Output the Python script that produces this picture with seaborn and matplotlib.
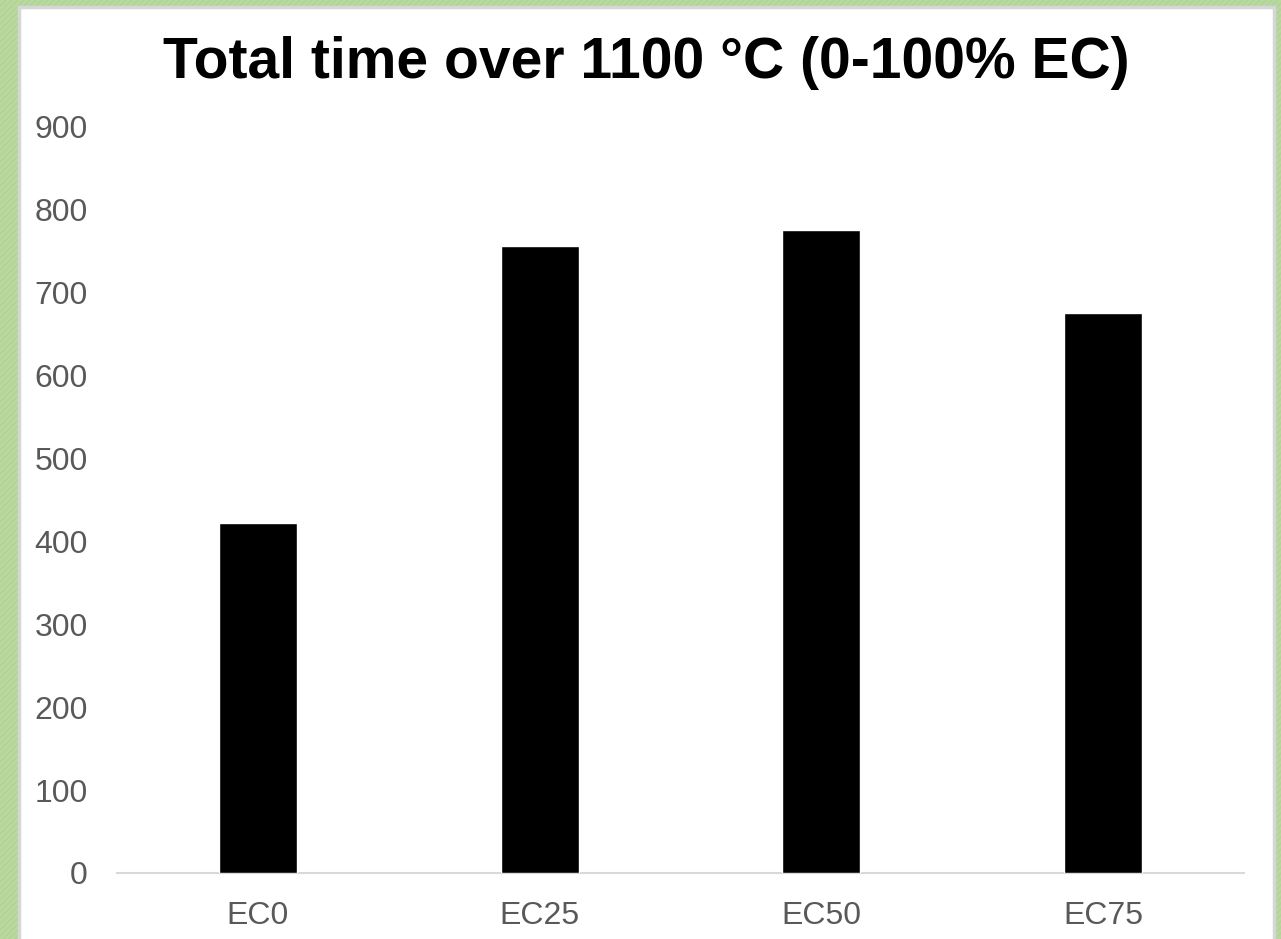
import numpy as np
import pandas as pd
import matplotlib
matplotlib.use("Agg")
import matplotlib.pyplot as plt
from matplotlib.patches import Rectangle
import seaborn as sns

categories = ["EC0", "EC25", "EC50", "EC75"]
values = [422, 756, 776, 676]
yticks = [0, 100, 200, 300, 400, 500, 600, 700, 800, 900]
title = "Total time over 1100 °C (0-100% EC)"

df = pd.DataFrame({"case": categories, "time": values})

sns.set_theme(style="white")
plt.rcParams["font.family"] = ["Liberation Sans", "DejaVu Sans"]

W, H = 1281, 939
fig = plt.figure(figsize=(W / 100, H / 100), dpi=100)
fig.patch.set_facecolor("#b9d9a0")

# hatched green frame behind the white slide panel
bg = fig.add_axes([0, 0, 1, 1])
bg.set_xlim(0, W)
bg.set_ylim(H, 0)
bg.axis("off")
for s in np.arange(-H, W + H, 6):
    bg.plot([s, s + H], [H, 0], color="#acd08f", lw=1.2, alpha=0.6, zorder=0)
bg.add_patch(Rectangle((19, 7), 1255, H, facecolor="white", edgecolor="#d6d6d6", lw=2.5, zorder=1))

ax = fig.add_axes([117 / W, 1 - 873 / H, (1244 - 117) / W, (873 - 127) / H])
ax.set_facecolor("none")
sns.barplot(data=df, x="case", y="time", color="black", width=0.277,
            saturation=1, ax=ax, zorder=3)
ax.set_ylim(0, 900)
ax.set_xlim(-0.5, 3.5)
ax.set_yticks(yticks)
ax.set_yticklabels([str(t) for t in yticks])
ax.set_xlabel("")
ax.set_ylabel("")
for side in ["top", "right", "left"]:
    ax.spines[side].set_visible(False)
ax.spines["bottom"].set_color("#d9d9d9")
ax.spines["bottom"].set_linewidth(1.5)
ax.tick_params(axis="both", length=0, labelsize=23, labelcolor="#595959")
ax.tick_params(axis="y", pad=21)
ax.tick_params(axis="x", pad=20)
ax.grid(False)

fig.text(646 / W, 1 - 63 / H, title, ha="center", va="center",
         fontsize=41, fontweight="bold", color="black")

fig.savefig("out.png", dpi=100)
